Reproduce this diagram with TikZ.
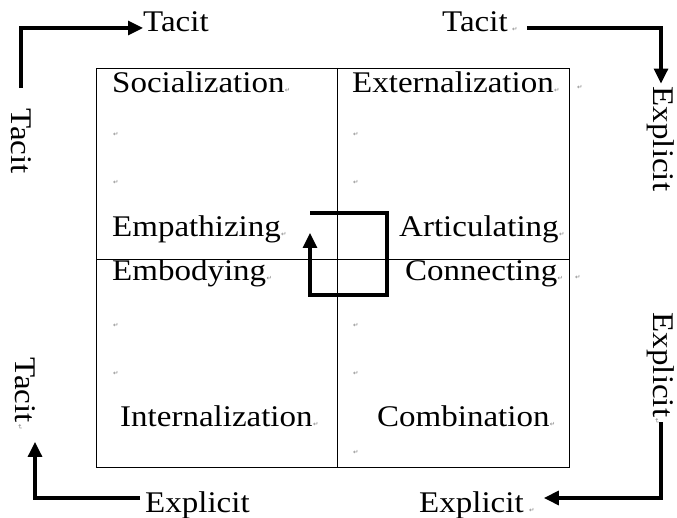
\documentclass[tikz,border=0pt]{standalone}
\usepackage{fontspec}
\setmainfont[FakeStretch=1.1]{Liberation Serif}
\newfontfamily\symf{DejaVu Sans}
\usetikzlibrary{arrows.meta}
\begin{document}
\begin{tikzpicture}[x=1pt,y=1pt,
 lbl/.style={inner sep=0pt, font=\fontsize{30}{31}\selectfont, anchor=base west},
 vlbl/.style={inner sep=0pt, font=\fontsize{30}{31}\selectfont, rotate=-90},
 rm/.style={inner sep=0pt, font=\symf\fontsize{6.5}{6.5}\selectfont, text=black!50, anchor=base west},
 vrm/.style={inner sep=0pt, font=\symf\fontsize{6.5}{6.5}\selectfont, text=black!50, rotate=-90},
 flow/.style={line width=3.2pt, -{Triangle[length=15pt,width=14pt]}},
 gridline/.style={line width=0.9pt}]
\useasboundingbox (0,0) rectangle (677,518);

% box
\coordinate (bl) at (96,51);
\coordinate (tr) at (569,450);
\coordinate (mt) at (337,450);
\coordinate (mb) at (337,51);
\coordinate (ml) at (96,259);
\coordinate (mr) at (569,259);
\draw[gridline] (bl) rectangle (tr);
\draw[gridline] (mt) -- (mb);
\draw[gridline] (ml) -- (mr);

% quadrant labels
\node[lbl] (soc) at (112,425) {Socialization};
\node[lbl] (ext) at (352,425) {Externalization};
\node[lbl] (emp) at (112,281) {Empathizing};
\node[lbl] (art) at (399,281) {Articulating};
\node[lbl] (emb) at (112,237) {Embodying};
\node[lbl] (con) at (405,237) {Connecting};
\node[lbl] (int) at (120,91) {Internalization};
\node[lbl] (com) at (377,91) {Combination};

% return marks
\node[rm] (r1) at (soc.base east) {↵};
\node[rm] (r2) at (ext.base east) {↵};
\node[rm] (r3) at (577,428) {↵};
\node[rm] (r4) at (113,381) {↵};
\node[rm] (r5) at (113,333) {↵};
\node[rm] (r6) at (353,381) {↵};
\node[rm] (r7) at (353,333) {↵};
\node[rm] (r8) at (emp.base east) {↵};
\node[rm] (r9) at (art.base east) {↵};
\node[rm] (r10) at (emb.base east) {↵};
\node[rm] (r11) at (con.base east) {↵};
\node[rm] (r12) at (575,238) {↵};
\node[rm] (r13) at (113,190) {↵};
\node[rm] (r14) at (113,142) {↵};
\node[rm] (r15) at (353,190) {↵};
\node[rm] (r16) at (353,142) {↵};
\node[rm] (r17) at (int.base east) {↵};
\node[rm] (r18) at (com.base east) {↵};
\node[rm] (r19) at (353,63) {↵};

% outer labels
\node[lbl] (tacTL) at (143,486) {Tacit};
\node[lbl] (tacTR) at (442,486) {Tacit};
\node[rm] (r20) at ([xshift=4pt]tacTR.base east) {↵};
\node[lbl] (expBL) at (145,5) {Explicit};
\node[lbl] (expBR) at (419,5) {Explicit};
\node[rm] (r21) at ([xshift=5pt]expBR.base east) {↵};
\node[vlbl] (tacL) at (21,377) {Tacit};
\node[vlbl] (tacL2) at (25,128) {Tacit};
\node[vrm] (r22) at (20,91) {↵};
\node[vlbl] (expR) at (661,379) {Explicit};
\node[vlbl] (expR2) at (661,153) {Explicit};
\node[vrm] (r23) at (657,97) {↵};

% outer flows
\draw[flow, shorten <=20pt] (tacL.west) |- ([yshift=4pt]tacTL.base west);
\draw[flow, shorten <=19pt, shorten >=3pt] ([yshift=4pt]tacTR.base east) -| (expR.west);
\draw[flow, shorten <=5pt, shorten >=20pt] (expR2.east) |- ([yshift=15pt]expBR.base east);
\draw[flow, shorten <=5pt, shorten >=19pt] ([yshift=15pt]expBL.base west) -| ([xshift=10pt]tacL2.east);

% inner loop
\coordinate (a1) at (310,305);
\coordinate (a2) at (387,305);
\coordinate (a3) at (387,223);
\coordinate (a4) at (310,223);
\coordinate (a5) at (310,285);
\draw[flow] (a1) -- (a2) -- (a3) -- (a4) -- (a5);
\end{tikzpicture}
\end{document}
